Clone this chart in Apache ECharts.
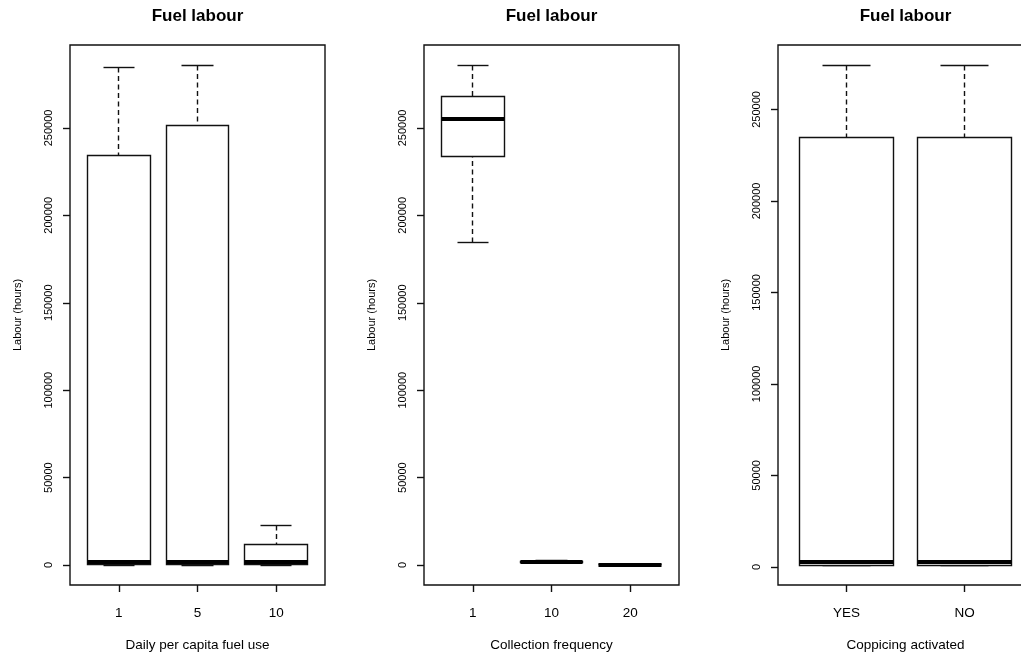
<!DOCTYPE html>
<html><head><meta charset="utf-8">
<script src="https://cdn.jsdelivr.net/npm/echarts@6/dist/echarts.min.js"></script>
<style>html,body{margin:0;padding:0;background:#fff;overflow:hidden}#c{width:1040px;height:657px}</style>
</head><body><div id="c"></div>
<script>
const panelTitle = 'Fuel labour';
const yAxisName = 'Labour (hours)';
const yTicks = [0, 50000, 100000, 150000, 200000, 250000];

// each box: [lower whisker, Q1, median, Q3, upper whisker]
const fuelUseName = 'Daily per capita fuel use';
const fuelUseCategories = ['1', '5', '10'];
const fuelUseBoxes = [
  [0, 500, 2000, 234000, 284500],
  [0, 500, 2000, 251500, 286000],
  [0, 500, 1700, 12000, 22500]
];

const freqName = 'Collection frequency';
const freqCategories = ['1', '10', '20'];
const freqBoxes = [
  [184600, 233800, 255200, 267900, 286000],
  [1500, 1700, 1900, 2200, 2500],
  [0, 100, 200, 300, 500]
];

const coppiceName = 'Coppicing activated';
const coppiceCategories = ['YES', 'NO'];
const coppiceBoxes = [
  [1000, 1000, 2700, 234600, 274300],
  [1000, 1000, 2700, 234600, 274300]
];

const panels = [
  { name: fuelUseName, cats: fuelUseCategories, boxes: fuelUseBoxes },
  { name: freqName, cats: freqCategories, boxes: freqBoxes },
  { name: coppiceName, cats: coppiceCategories, boxes: coppiceBoxes }
];

const FONT = '"Liberation Sans", Arial, sans-serif';
const INK = '#111';
const gridLefts = [70, 424, 778];
const GRID_TOP = 45, GRID_W = 255, GRID_H = 543;

function snap(p) { return Math.round(p - 0.5) + 0.5; }

function renderBox(params, api) {
  const x = api.value(0);
  const lo = api.value(1), q1 = api.value(2), med = api.value(3), q3 = api.value(4), hi = api.value(5);
  const L = snap(api.coord([x - 0.4, 0])[0]);
  const R = snap(api.coord([x + 0.4, 0])[0]);
  const cx = snap(api.coord([x, 0])[0]);
  const CL = snap(api.coord([x - 0.2, 0])[0]);
  const CR = snap(api.coord([x + 0.2, 0])[0]);
  const y = v => snap(api.coord([x, v])[1]);
  const yHi = y(hi), yQ3 = y(q3), yMed = api.coord([x, med])[1], yQ1 = y(q1), yLo = y(lo);
  const line = { stroke: INK, lineWidth: 1.4 };
  const dash = { stroke: INK, lineWidth: 1.4, lineDash: [5, 3.5] };
  return {
    type: 'group',
    children: [
      { type: 'line', shape: { x1: cx, y1: yHi, x2: cx, y2: yQ3 }, style: dash },
      { type: 'line', shape: { x1: cx, y1: yLo, x2: cx, y2: yQ1 }, style: dash },
      { type: 'line', shape: { x1: CL, y1: yHi, x2: CR, y2: yHi }, style: line },
      { type: 'line', shape: { x1: CL, y1: yLo, x2: CR, y2: yLo }, style: line },
      { type: 'rect', shape: { x: L, y: yQ3, width: R - L, height: yQ1 - yQ3 }, style: { stroke: INK, lineWidth: 1.4, fill: '#fff' } },
      { type: 'line', shape: { x1: L, y1: Math.round(yMed), x2: R, y2: Math.round(yMed) }, style: { stroke: '#000', lineWidth: 4, lineCap: 'butt' } }
    ]
  };
}

const grids = [], xAxes = [], yAxes = [], series = [], titles = [];
panels.forEach((p, i) => {
  const n = p.cats.length;
  const xTicks = p.cats.map((c, k) => k + 1);
  let dmin = Infinity, dmax = -Infinity;
  p.boxes.forEach(b => { dmin = Math.min(dmin, b[0]); dmax = Math.max(dmax, b[4]); });
  const ext = (dmax - dmin) * 0.04;
  grids.push({ left: gridLefts[i], top: GRID_TOP, width: GRID_W, height: GRID_H, show: true, borderColor: INK, borderWidth: 1.4, backgroundColor: 'transparent', containLabel: false });
  xAxes.push({
    type: 'value', gridIndex: i, min: 0.5 - 0.04 * n, max: n + 0.5 + 0.04 * n,
    splitLine: { show: false }, axisLine: { show: false, onZero: false },
    axisTick: { show: true, length: 7, customValues: xTicks, lineStyle: { color: INK, width: 1.4 } },
    axisLabel: { customValues: xTicks, formatter: v => p.cats[Math.round(v) - 1], fontSize: 13.5, color: '#000', margin: 21, fontFamily: FONT },
    name: p.name, nameLocation: 'middle', nameGap: 53,
    nameTextStyle: { fontSize: 13.5, color: '#000', fontFamily: FONT, verticalAlign: 'top' }
  });
  yAxes.push({
    type: 'value', gridIndex: i, min: dmin - ext, max: dmax + ext,
    splitLine: { show: false }, axisLine: { show: false, onZero: false },
    axisTick: { show: true, length: 7, customValues: yTicks, lineStyle: { color: INK, width: 1.4 } },
    axisLabel: { customValues: yTicks, formatter: v => String(v), rotate: 90, fontSize: 11, color: '#000', margin: 16, fontFamily: FONT },
    name: yAxisName, nameLocation: 'middle', nameRotate: 90, nameGap: 52,
    nameTextStyle: { fontSize: 11, color: '#000', fontFamily: FONT, verticalAlign: 'middle' }
  });
  series.push({
    type: 'custom', xAxisIndex: i, yAxisIndex: i, silent: true, clip: false,
    data: p.boxes.map((b, k) => [k + 1].concat(b)),
    encode: { x: 0, y: [1, 2, 3, 4, 5] },
    renderItem: renderBox
  });
  titles.push({
    text: panelTitle, left: gridLefts[i] + GRID_W / 2, top: 8, textAlign: 'center', padding: 0,
    textStyle: { fontSize: 17, fontWeight: 'bold', color: '#000', fontFamily: FONT }
  });
});

const chart = echarts.init(document.getElementById('c'), null, { renderer: 'canvas' });
chart.setOption({
  animation: false,
  backgroundColor: '#fff',
  title: titles,
  grid: grids,
  xAxis: xAxes,
  yAxis: yAxes,
  series: series
});
</script>
</body></html>
